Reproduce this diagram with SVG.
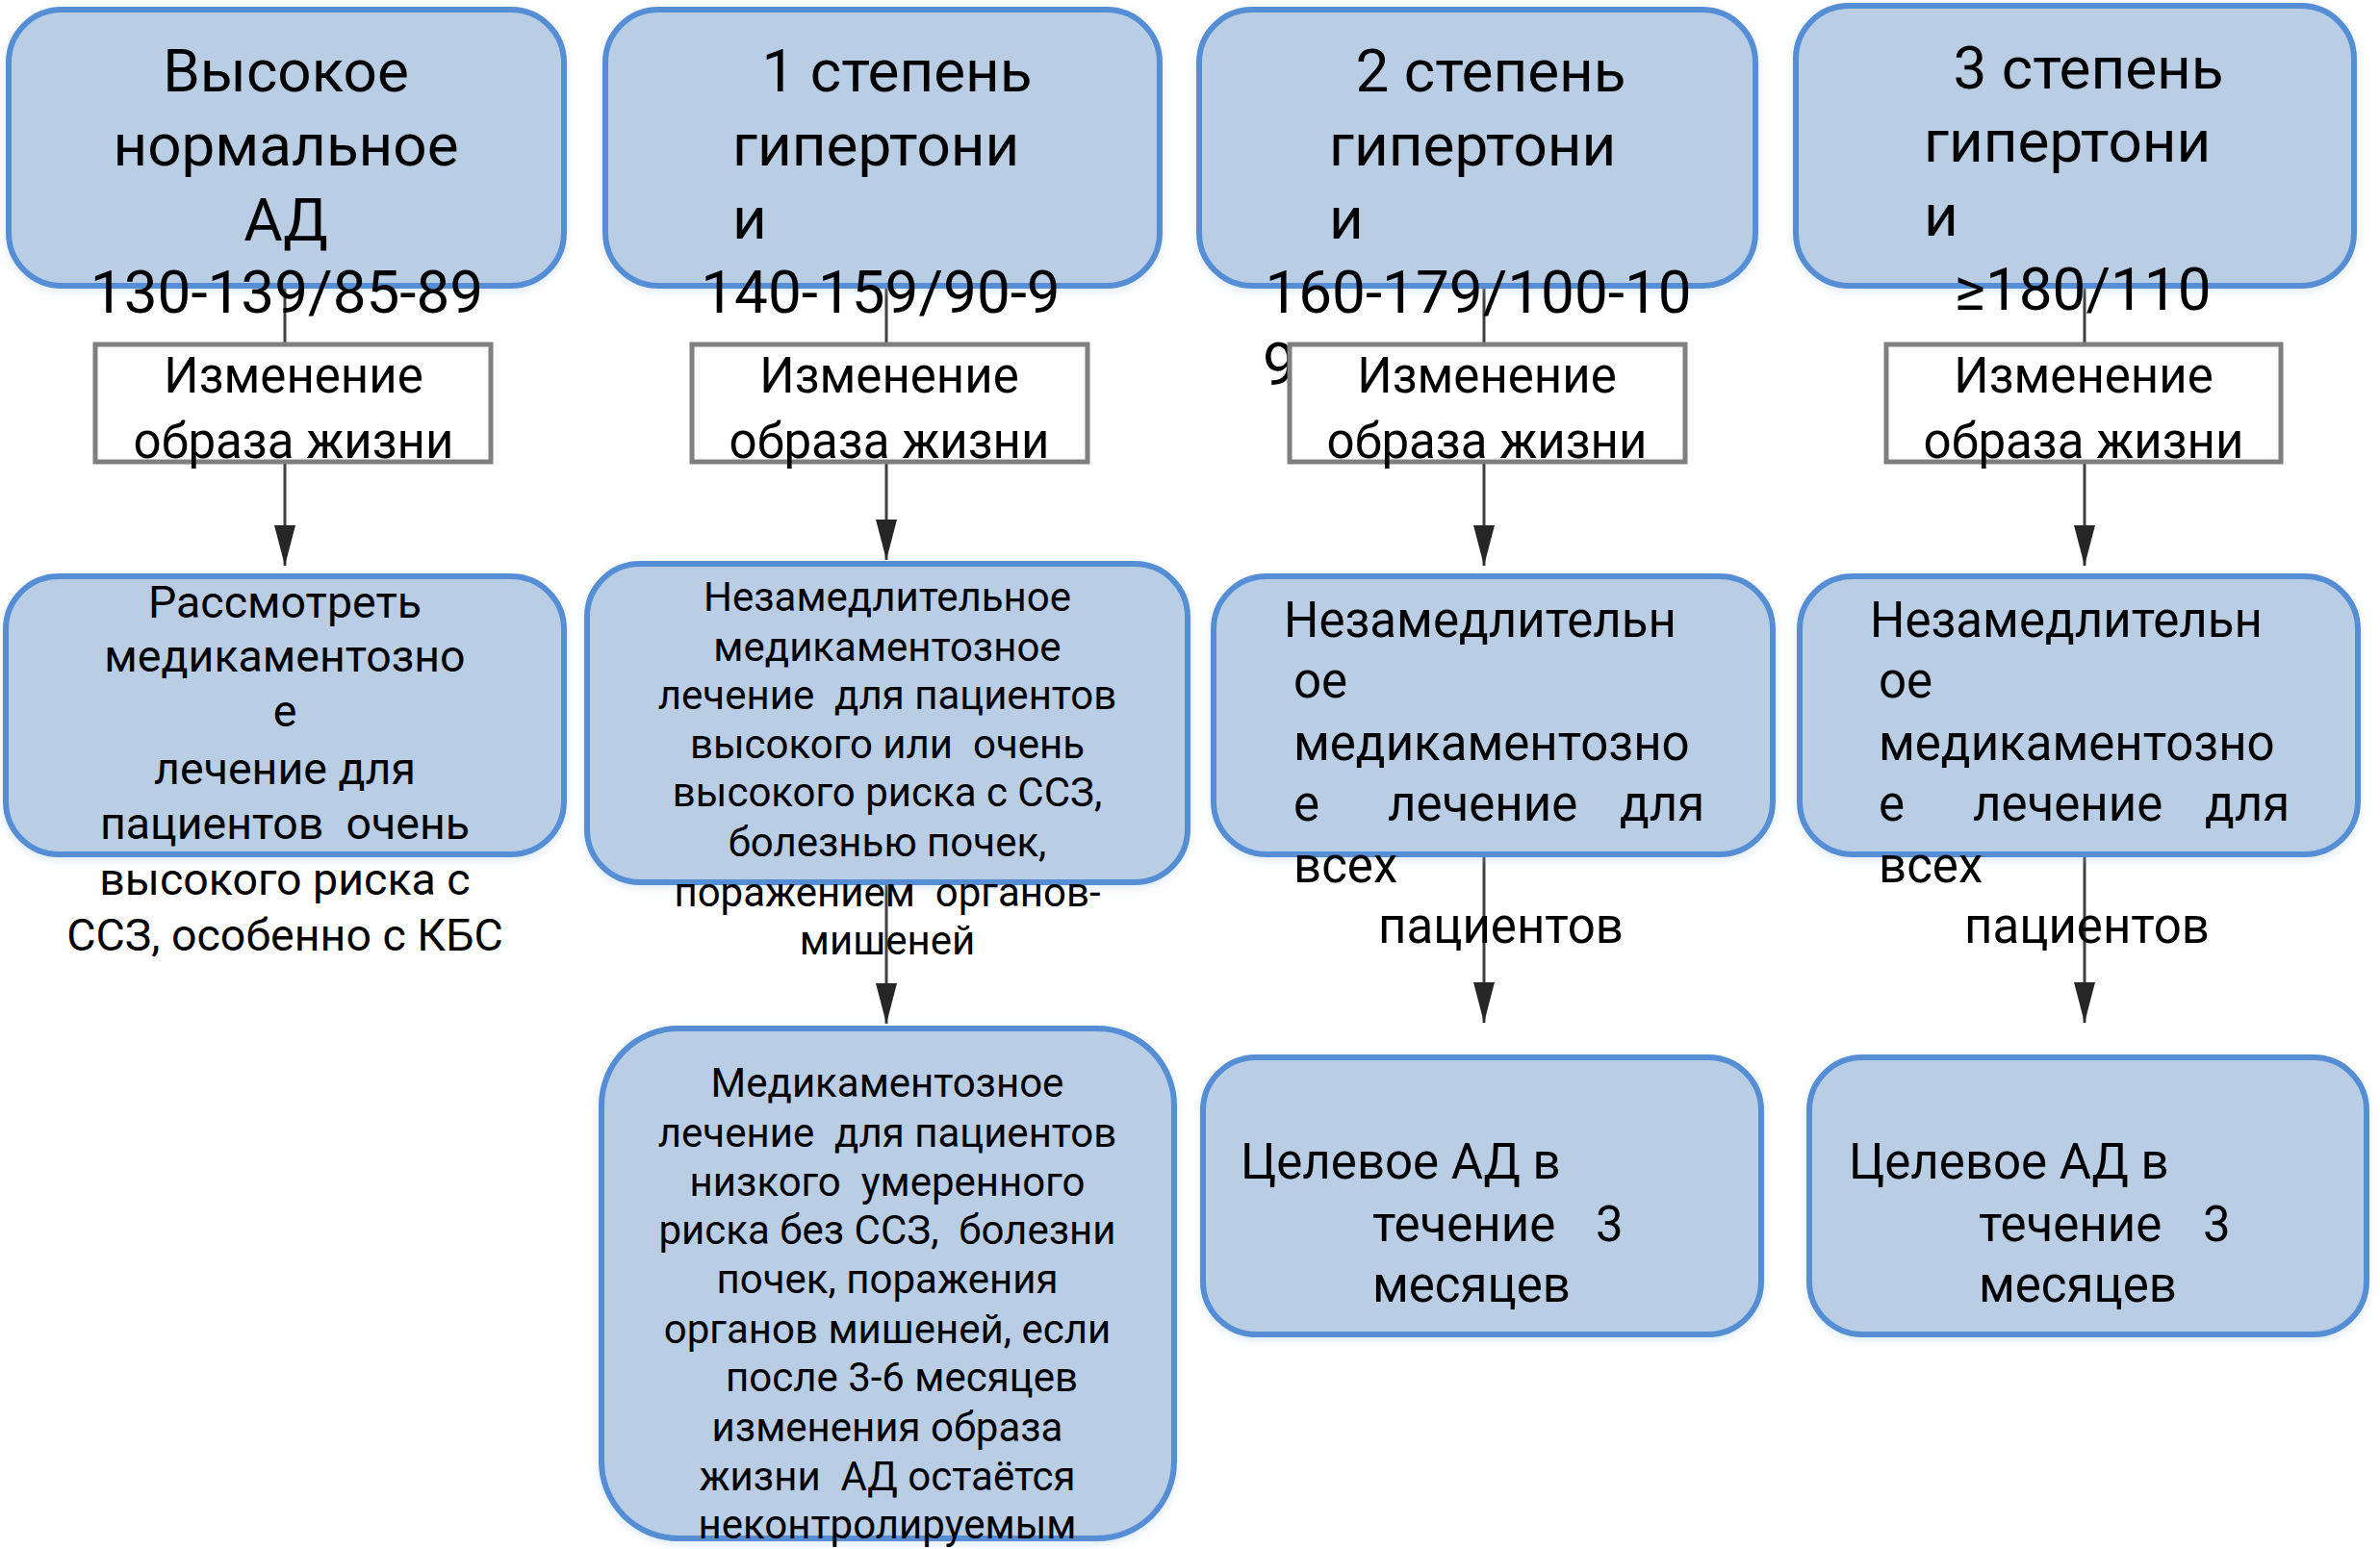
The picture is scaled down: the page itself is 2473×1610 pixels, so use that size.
<svg xmlns="http://www.w3.org/2000/svg" width="2473" height="1610" viewBox="0 0 2473 1610">
<style>
text{font-family:Roboto,"DejaVu Sans",sans-serif;fill:#000}
.big{font-size:62px}
.sm{font-size:51px}
.t45{font-size:46.5px}
.t42{font-size:42px}
.t51{font-size:51px}
.t50{font-size:51px}
.mid{text-anchor:middle}
.blue{fill:#B9CDE5;stroke:#558ED5;stroke-width:6}
.white{fill:#fff;stroke:#7F7F7F;stroke-width:5}
.conn{stroke:#404040;stroke-width:3;fill:none}
</style>
<defs>
<marker id="arr" viewBox="0 0 42 22" refX="42" refY="11" markerWidth="42" markerHeight="22" markerUnits="userSpaceOnUse" orient="auto">
<path d="M0,0 L42,11 L0,22 Z" fill="#262626"/>
</marker>
<filter id="sh" x="-5%" y="-5%" width="110%" height="115%">
<feDropShadow dx="0" dy="3" stdDeviation="5" flood-color="#9fc3d8" flood-opacity="0.35"/>
</filter>
</defs>
<rect width="2473" height="1610" fill="#fff"/>
<g id="connectors">
<line class="conn" x1="296" y1="297" x2="296" y2="357"/>
<line class="conn" x1="296" y1="480" x2="296" y2="588" marker-end="url(#arr)"/>
<line class="conn" x1="921" y1="297" x2="921" y2="357"/>
<line class="conn" x1="921" y1="480" x2="921" y2="582" marker-end="url(#arr)"/>
<line class="conn" x1="921" y1="918" x2="921" y2="1064" marker-end="url(#arr)"/>
<line class="conn" x1="1542" y1="297" x2="1542" y2="357"/>
<line class="conn" x1="1542" y1="480" x2="1542" y2="588" marker-end="url(#arr)"/>
<line class="conn" x1="1542" y1="888" x2="1542" y2="1063" marker-end="url(#arr)"/>
<line class="conn" x1="2166" y1="297" x2="2166" y2="357"/>
<line class="conn" x1="2166" y1="480" x2="2166" y2="588" marker-end="url(#arr)"/>
<line class="conn" x1="2166" y1="888" x2="2166" y2="1063" marker-end="url(#arr)"/>
</g>
<g id="top-a">
<rect class="blue" filter="url(#sh)" x="9" y="10" width="577" height="287" rx="55"/>
<text class="big mid" x="297" y="95">Высокое</text>
<text class="big mid" x="297" y="172">нормальное</text>
<text class="big mid" x="297" y="250">АД</text>
<text class="big mid" x="298" y="325">130-139/85-89</text>
</g>
<g id="top-b">
<rect class="blue" filter="url(#sh)" x="629" y="10" width="576" height="287" rx="55"/>
<text class="big mid" x="932" y="95">1 степень</text>
<text class="big" x="761" y="172">гипертони</text>
<text class="big" x="761" y="248">и</text>
<text class="big mid" x="915" y="325">140-159/90-9</text>
</g>
<g id="top-c">
<rect class="blue" filter="url(#sh)" x="1246" y="10" width="578" height="287" rx="55"/>
<text class="big mid" x="1549" y="95">2 степень</text>
<text class="big" x="1381" y="172">гипертони</text>
<text class="big" x="1381" y="248">и</text>
<text class="big mid" x="1536" y="325">160-179/100-10</text>
<text class="big" x="1312" y="400">9</text>
</g>
<g id="top-d">
<rect class="blue" filter="url(#sh)" x="1866" y="6" width="580" height="291" rx="55"/>
<text class="big mid" x="2170" y="92">3 степень</text>
<text class="big" x="1999" y="168">гипертони</text>
<text class="big" x="1999" y="245">и</text>
<text class="big mid" x="2164" y="322">≥180/110</text>
</g>
<g id="life-a">
<rect class="white" x="99" y="358" width="411" height="122"/>
<text class="sm mid" x="305" y="408">Изменение</text>
<text class="sm mid" x="305" y="476">образа жизни</text>
</g>
<g id="life-b">
<rect class="white" x="719" y="358" width="411" height="122"/>
<text class="sm mid" x="924" y="408">Изменение</text>
<text class="sm mid" x="924" y="476">образа жизни</text>
</g>
<g id="life-c">
<rect class="white" x="1340" y="358" width="411" height="122"/>
<text class="sm mid" x="1545" y="408">Изменение</text>
<text class="sm mid" x="1545" y="476">образа жизни</text>
</g>
<g id="life-d">
<rect class="white" x="1960" y="358" width="410" height="122"/>
<text class="sm mid" x="2165" y="408">Изменение</text>
<text class="sm mid" x="2165" y="476">образа жизни</text>
</g>
<g id="treat-a">
<rect class="blue" filter="url(#sh)" x="6" y="599" width="580" height="289" rx="55"/>
<text class="t45 mid" x="296" y="642">Рассмотреть</text>
<text class="t45 mid" x="296" y="698">медикаментозно</text>
<text class="t45 mid" x="296" y="755">е</text>
<text class="t45 mid" x="296" y="815">лечение для</text>
<text class="t45 mid" x="296" y="872" xml:space="preserve">пациентов  очень</text>
<text class="t45 mid" x="296" y="930">высокого риска с</text>
<text class="t45 mid" x="296" y="988">ССЗ, особенно с КБС</text>
</g>
<g id="treat-b">
<rect class="blue" filter="url(#sh)" x="610" y="586" width="624" height="331" rx="55"/>
<text class="t42 mid" x="922" y="635">Незамедлительное</text>
<text class="t42 mid" x="922" y="687">медикаментозное</text>
<text class="t42 mid" x="922" y="737" xml:space="preserve">лечение  для пациентов</text>
<text class="t42 mid" x="922" y="788" xml:space="preserve">высокого или  очень</text>
<text class="t42 mid" x="922" y="838">высокого риска с ССЗ,</text>
<text class="t42 mid" x="922" y="890">болезнью почек,</text>
<text class="t42 mid" x="922" y="942" xml:space="preserve">поражением  органов-</text>
<text class="t42 mid" x="922" y="992">мишеней</text>
</g>
<g id="treat-b2">
<rect class="blue" filter="url(#sh)" x="625" y="1069" width="595" height="530" rx="80"/>
<text class="t42 mid" x="922" y="1140">Медикаментозное</text>
<text class="t42 mid" x="922" y="1192" xml:space="preserve">лечение  для пациентов</text>
<text class="t42 mid" x="922" y="1243" xml:space="preserve">низкого  умеренного</text>
<text class="t42 mid" x="922" y="1293" xml:space="preserve">риска без ССЗ,  болезни</text>
<text class="t42 mid" x="922" y="1344">почек, поражения</text>
<text class="t42 mid" x="922" y="1396">органов мишеней, если</text>
<text class="t42 mid" x="937" y="1446">после 3-6 месяцев</text>
<text class="t42 mid" x="922" y="1498">изменения образа</text>
<text class="t42 mid" x="922" y="1549" xml:space="preserve">жизни  АД остаётся</text>
<text class="t42 mid" x="922" y="1599">неконтролируемым</text>
</g>
<g id="treat-c">
<rect class="blue" filter="url(#sh)" x="1261" y="599" width="581" height="289" rx="55"/>
<text class="t51" x="1334" y="662">Незамедлительн</text>
<text class="t51" x="1344" y="725">ое</text>
<text class="t51" x="1344" y="790">медикаментозно</text>
<text class="t51" y="853"><tspan x="1344">е</tspan><tspan x="1442">лечение</tspan><tspan x="1683">для</tspan></text>
<text class="t51" x="1344" y="917">всех</text>
<text class="t51" x="1432" y="980">пациентов</text>
</g>
<g id="treat-d">
<rect class="blue" filter="url(#sh)" x="1870" y="599" width="580" height="289" rx="55"/>
<text class="t51" x="1943" y="662">Незамедлительн</text>
<text class="t51" x="1952" y="725">ое</text>
<text class="t51" x="1952" y="790">медикаментозно</text>
<text class="t51" y="853"><tspan x="1952">е</tspan><tspan x="2050">лечение</tspan><tspan x="2291">для</tspan></text>
<text class="t51" x="1952" y="917">всех</text>
<text class="t51" x="2041" y="980">пациентов</text>
</g>
<g id="goal-c">
<rect class="blue" filter="url(#sh)" x="1250" y="1099" width="580" height="288" rx="55"/>
<text class="t50" x="1289" y="1225">Целевое АД в</text>
<text class="t50" y="1290"><tspan x="1426">течение</tspan><tspan x="1658">3</tspan></text>
<text class="t50" x="1426" y="1353">месяцев</text>
</g>
<g id="goal-d">
<rect class="blue" filter="url(#sh)" x="1880" y="1099" width="579" height="288" rx="55"/>
<text class="t50" x="1921" y="1225">Целевое АД в</text>
<text class="t50" y="1290"><tspan x="2056">течение</tspan><tspan x="2289">3</tspan></text>
<text class="t50" x="2056" y="1353">месяцев</text>
</g>
</svg>
